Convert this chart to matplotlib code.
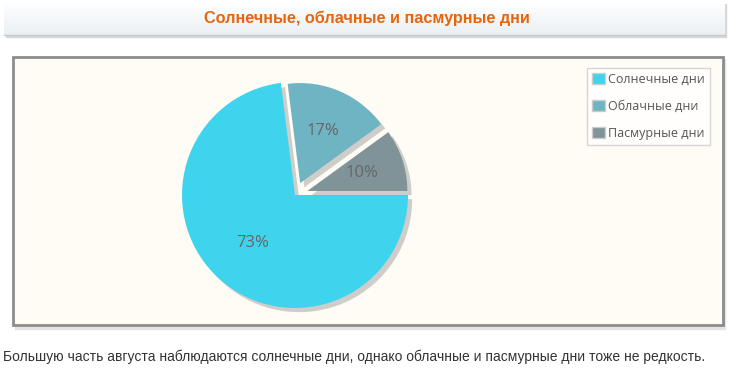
import matplotlib.pyplot as plt
import matplotlib.patheffects as pe
from matplotlib.patches import Rectangle, Patch
import numpy as np

# данные диаграммы
categories = ["Солнечные дни", "Облачные дни", "Пасмурные дни"]
shares = [73, 17, 10]
colors = ["#3fd4ee", "#6fb4c2", "#7f9399"]
title = "Солнечные, облачные и пасмурные дни"
caption = "Большую часть августа наблюдаются солнечные дни, однако облачные и пасмурные дни тоже не редкость."

W, H = 730, 382
fig = plt.figure(figsize=(W / 100, H / 100), dpi=100)
fig.patch.set_facecolor("white")

narrow = ["Liberation Sans Narrow", "Liberation Sans", "DejaVu Sans"]


def px_axes(x, y, w, h):
    # оси в пикселях (отсчёт сверху)
    return fig.add_axes([x / W, 1 - (y + h) / H, w / W, h / H])


# фон: шапка и рамка
bg = px_axes(0, 0, W, H)
bg.set_xlim(0, W)
bg.set_ylim(H, 0)
bg.axis("off")

# шапка с градиентом
grad = np.linspace(0, 1, 50).reshape(-1, 1)
bg.add_patch(Rectangle((6, 4), 720, 33, color="#d8d8d8", zorder=0))
bg.imshow(grad, extent=(4, 725, 35, 2), cmap=plt.matplotlib.colors.LinearSegmentedColormap.from_list(
    "hdr", ["#ffffff", "#eaf0f4"]), aspect="auto", zorder=1)
bg.plot([4, 725], [35, 35], color="#c8c8c8", lw=1, zorder=2)
bg.text(367, 18, title, ha="center", va="center", color="#e8650c",
        fontsize=11.7, fontweight="bold", family=narrow, zorder=3)

# рамка области графика
bg.add_patch(Rectangle((15, 59), 710, 270, color="#e4e4e4", zorder=0))
bg.add_patch(Rectangle((13, 57), 710, 268, facecolor="#fffcf5",
                       edgecolor="#8c8c8c", lw=2, zorder=1))
bg.set_xlim(0, W)
bg.set_ylim(H, 0)

bg.text(3, 357, caption, ha="left", va="center", color="#333333",
        fontsize=10, family=narrow)

# круговая диаграмма
ax = px_axes(295 - 120, 195 - 120, 240, 240)

wedges, texts, autotexts = ax.pie(
    shares, colors=colors, startangle=0, counterclock=False,
    explode=[0, 0.13, 0.13], radius=1.13, autopct="%d%%",
    pctdistance=0.57, textprops=dict(color="#666666", fontsize=12, family="Open Sans"),
    wedgeprops=dict(linewidth=0))

# pie сам задаёт пределы осей, поэтому ставим свои после него
ax.set_xlim(-1.2, 1.2)
ax.set_ylim(-1.2, 1.2)
ax.set_aspect("equal")
ax.axis("off")

shadow = [pe.SimplePatchShadow(offset=(3, -3), shadow_rgbFace="#a0a0a0", alpha=0.5), pe.Normal()]
for i, w in enumerate(wedges):
    w.set_path_effects(shadow)
    if i > 0:
        w.set_radius(1.0)
    mid = np.deg2rad((w.theta1 + w.theta2) / 2)
    cx, cy = w.center
    autotexts[i].set_position((cx + 0.57 * w.r * np.cos(mid), cy + 0.57 * w.r * np.sin(mid)))

# легенда
handles = [Patch(facecolor=c, edgecolor="#cccccc", lw=1) for c in colors]
leg = fig.legend(handles, categories, loc="upper right",
                 bbox_to_anchor=(710 / W, 1 - 68 / H), frameon=True,
                 prop=dict(family="Open Sans", size=9), labelcolor="#555555",
                 labelspacing=1.1, handlelength=1.0, handleheight=1.0,
                 handletextpad=0.3, borderpad=0.4, borderaxespad=0, fancybox=False)
leg.get_frame().set_edgecolor("#cccccc")
leg.get_frame().set_linewidth(1)

fig.savefig("out.png", dpi=100)
